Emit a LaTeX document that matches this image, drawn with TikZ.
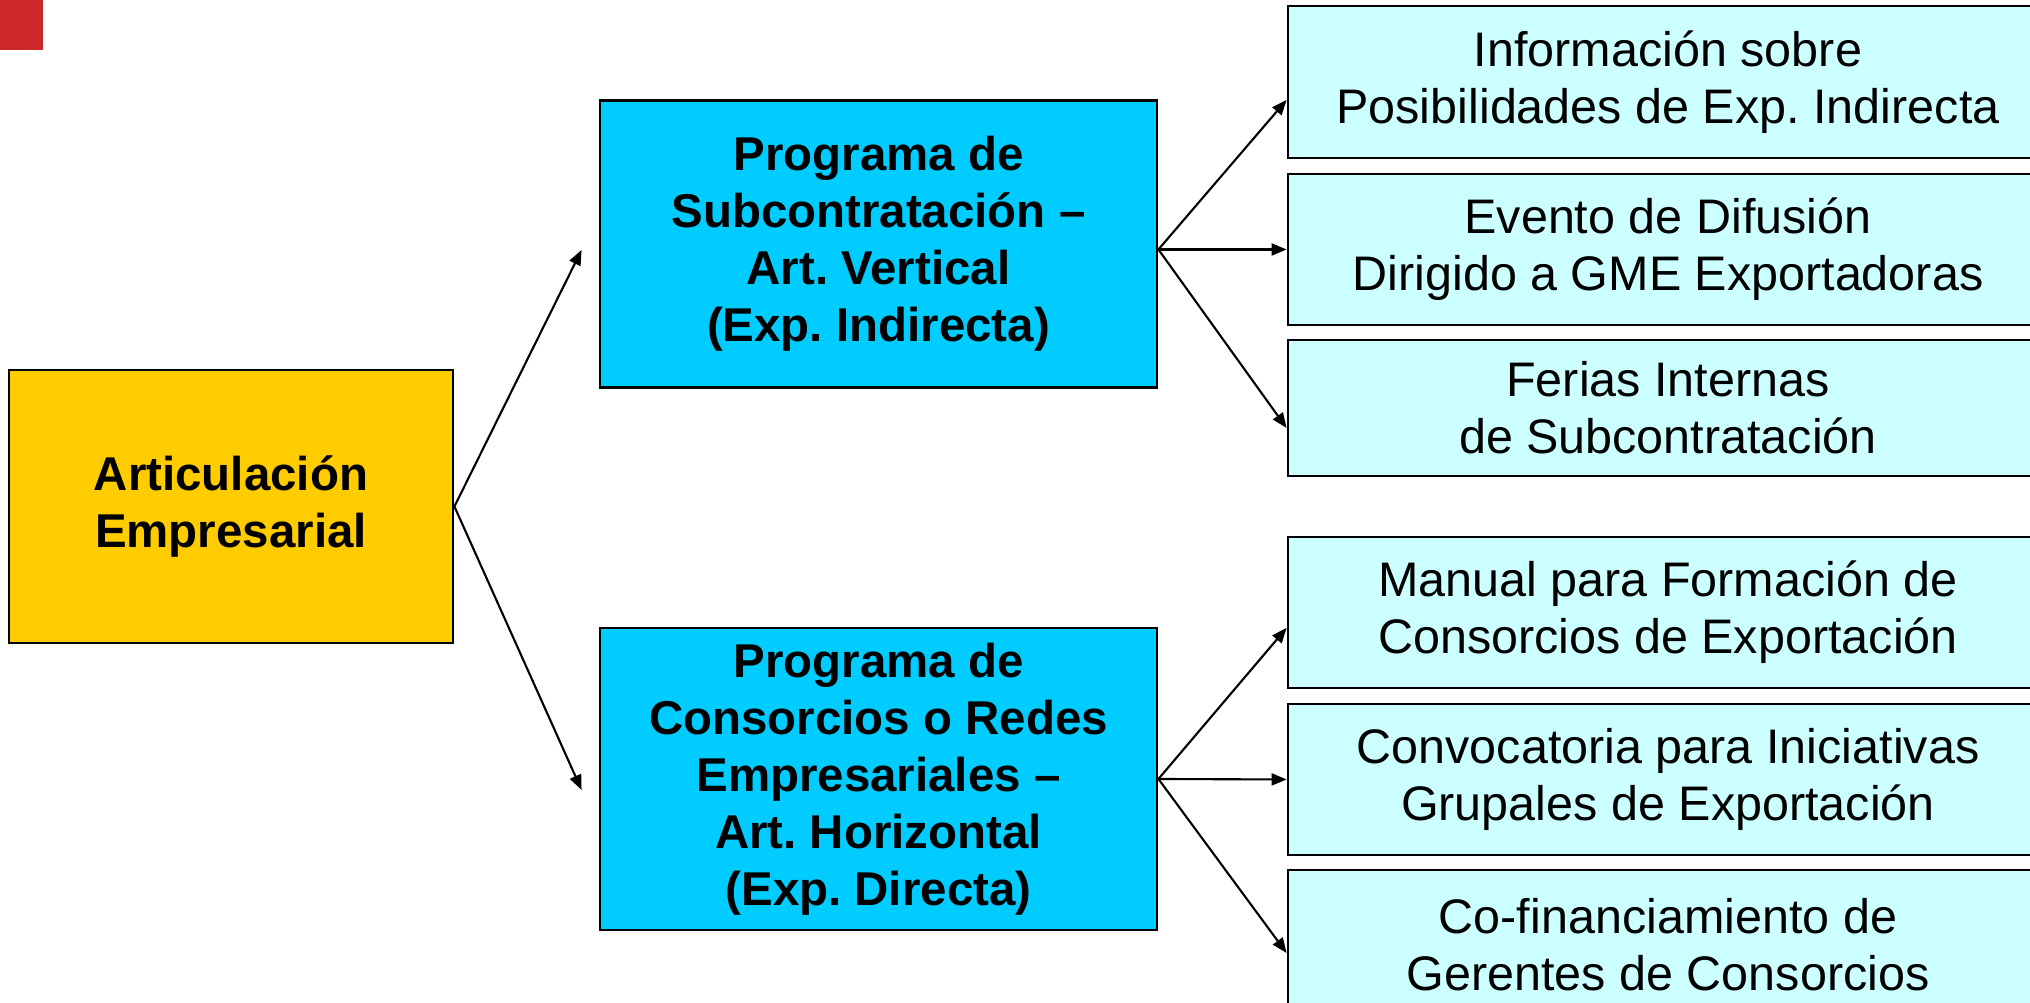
\documentclass[tikz,border=0pt]{standalone}
\usepackage{fontspec}
\setmainfont{Liberation Sans}
\usetikzlibrary{arrows.meta}
\definecolor{gold}{RGB}{255,204,0}
\definecolor{skyblue}{RGB}{0,204,255}
\definecolor{paleblue}{RGB}{204,255,255}
\definecolor{logored}{RGB}{204,40,40}
\frenchspacing

\begin{document}
\begin{tikzpicture}

		\tikzstyle{every node}=[font=\fontsize{13.5pt}{16.2pt}\selectfont, align=center]
		\tikzstyle{box}=[draw, line width=0.8pt, rectangle, inner sep=0pt]
		\tikzstyle{root}=[box, fill=gold, minimum width=4.44cm, minimum height=2.73cm, font=\fontsize{13.5pt}{16.2pt}\selectfont\bfseries]
		\tikzstyle{prog}=[box, fill=skyblue, minimum width=5.57cm, font=\fontsize{13.5pt}{16.2pt}\selectfont\bfseries]
		\tikzstyle{task}=[box, fill=paleblue, minimum width=7.6cm, font=\fontsize{13.8pt}{16.2pt}\selectfont]
		\tikzstyle{link}=[-{Triangle[length=0.15cm,width=0.12cm]}, line width=0.6pt]
		
		\useasboundingbox (0,0) rectangle (20.3,10.03);
		\fill[logored] (0,10.03) rectangle (0.43,9.53);
		
		\node[root] (art) at (2.31,4.965) {Articulación\\Empresarial};
		
		\node[prog, minimum height=2.87cm] (sub) at (8.785,7.59) {Programa de\\Subcontratación --\\Art. Vertical\\(Exp. Indirecta)};
		\node[prog, minimum height=3.02cm] (cons) at (8.785,2.24) {Programa de\\Consorcios o Redes\\Empresariales --\\Art. Horizontal\\(Exp. Directa)};
		
		% vertical
		\node[task, minimum height=1.52cm] (info) at (16.68,9.21) {Información sobre\\Posibilidades de Exp. Indirecta};
		\node[task, minimum height=1.51cm] (evento) at (16.68,7.535) {Evento de Difusión\\Dirigido a GME Exportadoras};
		\node[task, minimum height=1.36cm] (ferias) at (16.68,5.95) {Ferias Internas\\de Subcontratación};
		
		% horizontal
		\node[task, minimum height=1.51cm] (manual) at (16.68,3.905) {Manual para Formación de\\Consorcios de Exportación};
		\node[task, minimum height=1.51cm] (conv) at (16.68,2.235) {Convocatoria para Iniciativas\\Grupales de Exportación};
		\node[task, minimum height=1.5cm] (cofin) at (16.68,0.58) {Co-financiamiento de\\Gerentes de Consorcios};
		
		\draw[link] (art.east) -- ([shift={(-0.17,-0.06)}]sub.west);
		\draw[link] (art.east) -- ([shift={(-0.17,-0.11)}]cons.west);
		
		\coordinate (subout) at (sub.east |- evento.west);
		\draw[link] (subout) -- ([yshift=-0.18cm]info.west);
		\draw[link] (subout) -- (evento.west);
		\draw[link] (subout) -- ([yshift=-0.2cm]ferias.west);
		
		\draw[link] (cons.east) -- ([yshift=-0.155cm]manual.west);
		\draw[link] (cons.east) -- (conv.west);
		\draw[link] (cons.east) -- ([yshift=-0.08cm]cofin.west);
		
\end{tikzpicture}
\end{document}
